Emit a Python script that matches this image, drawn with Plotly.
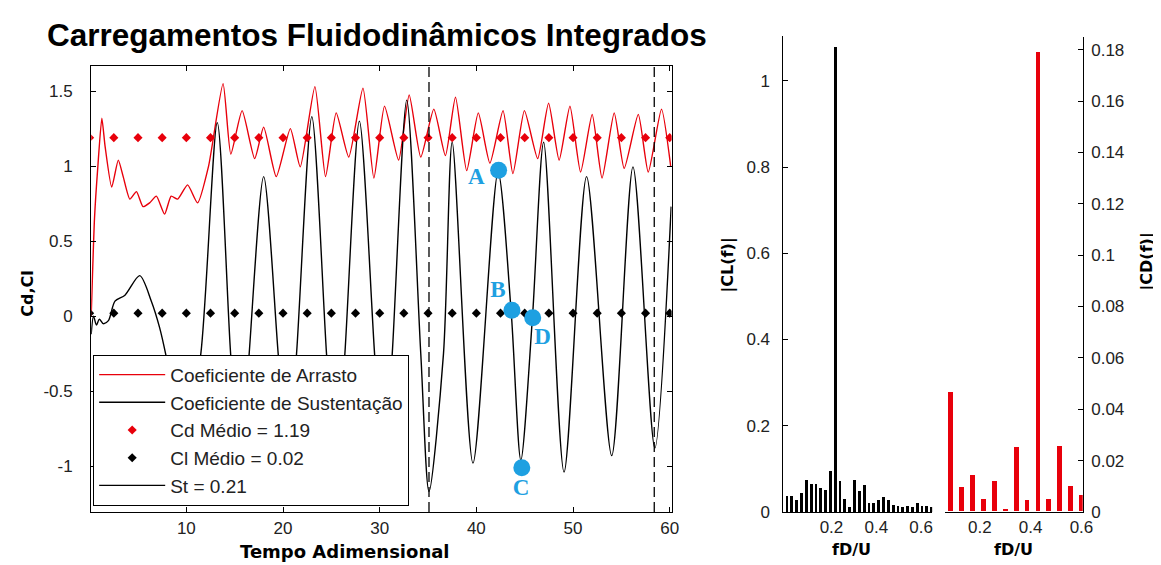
import plotly.graph_objects as go

W, H = 1161, 565

# ---------------- data ----------------
# Drag coefficient time series (extrema / key points)
cd_t = [0.16, 0.5, 0.85, 1.26, 1.6, 2.28, 2.96, 3.47, 4.16, 4.84, 5.52, 6.2, 6.9, 7.75,
        8.43, 9.1, 10.13, 11.16, 12.3, 13.8, 14.6, 15.77, 17.07, 18.0, 19.3, 20.76,
        21.78, 23.3, 24.4, 25.5, 26.8, 28.27, 29.4, 30.5, 31.96, 33.05, 34.25, 35.6,
        36.8, 37.84, 39.0, 40.2, 41.4, 42.76, 43.78, 44.97, 46.34, 47.47, 48.56,
        49.68, 50.78, 51.98, 53.0, 54.26, 55.29, 56.75, 57.78, 59.15, 60.1]
cd_v = [0.0, 0.65, 1.0, 1.32, 1.13, 0.86, 1.04, 0.93, 0.78, 0.83, 0.73, 0.755, 0.80, 0.68,
        0.80, 0.78, 0.875, 0.755, 1.0, 1.55, 1.08, 1.37, 1.05, 1.26, 0.93, 1.25,
        0.995, 1.53, 0.93, 1.355, 1.06, 1.52, 0.92, 1.40, 1.04, 1.475, 1.06, 1.38,
        1.07, 1.46, 0.97, 1.355, 1.02, 1.37, 0.95, 1.37, 1.05, 1.42, 1.04,
        1.40, 0.96, 1.345, 0.92, 1.355, 0.985, 1.345, 0.96, 1.38, 1.0]

# Lift coefficient time series (extrema / key points)
cl_t = [0.16, 0.4, 0.7, 1.0, 1.4, 1.94, 2.62, 3.65, 5.18, 6.38, 7.23, 7.92, 9.8, 11.5,
        13.2, 14.58, 15.6, 16.5, 18.0, 19.5, 20.45, 21.4, 22.98, 24.5, 25.45, 26.4,
        27.9, 29.47, 30.4, 31.3, 32.8, 34.25, 35.1, 36.6, 37.5, 39.65, 42.24, 43.6,
        44.6, 45.8, 46.96, 49.07, 51.4, 54.0, 56.2, 58.46, 60.15]
cl_v = [-0.12, 0.0, -0.06, -0.02, -0.05, -0.03, 0.10, 0.14, 0.27, 0.10, -0.075, -0.27,
        -0.9, -0.25, 1.29, -0.25, -1.1, -0.25, 0.93, -0.25, -1.0, -0.25, 1.33, -0.25,
        -1.1, -0.25, 1.30, -0.25, -1.1, -0.25, 1.44, -0.25, -1.17, -0.25, 1.16, -0.98,
        0.96, 0.03, -0.96, -0.01, 1.16, -1.04, 0.93, -0.93, 0.995, -0.88, 0.73]

# mean-value markers
mean_t = [0, 2.5, 5, 7.5, 10, 12.5, 15, 17.5, 20, 22.5, 25, 27.5, 30, 32.5, 35, 37.5,
          40, 42.5, 45, 47.5, 50, 52.5, 55, 57.5, 60]
cd_mean = 1.19
cl_mean = 0.02

# analysis window (dashed lines)
window_t = [35.1, 58.4]

# highlighted instants
pt_labels = ["A", "B", "C", "D"]
pt_t = [42.3, 43.68, 44.7, 45.83]
pt_v = [0.973, 0.04, -1.01, -0.01]
lab_t = [40.0, 42.24, 44.63, 46.85]
lab_v = [0.92, 0.165, -1.157, -0.15]

# spectra
cl_freq = [0.0, 0.0215, 0.043, 0.0645, 0.086, 0.1075, 0.129, 0.1505, 0.172, 0.1935,
           0.215, 0.2365, 0.258, 0.2795, 0.301, 0.3225, 0.344, 0.3655, 0.387, 0.4085,
           0.43, 0.4515, 0.473, 0.4945, 0.516, 0.5375, 0.559, 0.5805, 0.602, 0.6235, 0.645]
cl_amp = [0.038, 0.038, 0.029, 0.046, 0.076, 0.067, 0.067, 0.056, 0.052, 0.097, 1.08,
          0.073, 0.031, 0.012, 0.076, 0.050, 0.063, 0.023, 0.021, 0.029, 0.036, 0.029,
          0.018, 0.016, 0.012, 0.014, 0.012, 0.021, 0.016, 0.016, 0.012]
cd_freq = [0.0858, 0.1287, 0.1716, 0.2145, 0.2574, 0.3003, 0.3432, 0.3861, 0.429,
           0.4719, 0.5148, 0.5577, 0.6006]
cd_amp = [0.0464, 0.0094, 0.0141, 0.0047, 0.0117, 0.0008, 0.0251, 0.0043, 0.179,
          0.0047, 0.0256, 0.0101, 0.0065]

# ---------------- helpers (pixel -> paper) ----------------
def fx(px):
    return px / W


def fy(py):
    return 1 - py / H


RED = "#e8000b"
BLUE = "#1ea0e1"
TICKFONT = dict(family="Liberation Sans", size=17, color="#222")
LABFONT = dict(family="DejaVu Sans", size=16, color="black")

fig = go.Figure()

fig.add_trace(go.Scatter(x=cd_t, y=cd_v, mode="lines", name="Coeficiente de Arrasto",
                         line=dict(color=RED, width=1.4, shape="spline", smoothing=0.55)))
fig.add_trace(go.Scatter(x=cl_t, y=cl_v, mode="lines", name="Coeficiente de Sustentação",
                         line=dict(color="black", width=1.4, shape="spline", smoothing=0.8)))
fig.add_trace(go.Scatter(x=mean_t, y=[cd_mean] * len(mean_t), mode="markers",
                         name="Cd Médio = %.2f" % cd_mean,
                         marker=dict(symbol="diamond", size=7, color=RED)))
fig.add_trace(go.Scatter(x=mean_t, y=[cl_mean] * len(mean_t), mode="markers",
                         name="Cl Médio = %.2f" % cl_mean,
                         marker=dict(symbol="diamond", size=7, color="black")))
fig.add_trace(go.Scatter(x=[None], y=[None], mode="lines", name="St = 0.21",
                         line=dict(color="black", width=1.4)))
fig.add_trace(go.Scatter(x=pt_t, y=pt_v, mode="markers", showlegend=False,
                         marker=dict(size=17, color=BLUE)))
fig.add_trace(go.Scatter(x=lab_t, y=lab_v, mode="text", text=pt_labels, showlegend=False,
                         textfont=dict(family="Liberation Serif", size=23, color=BLUE,
                                       weight="bold")))

fig.add_trace(go.Bar(x=cl_freq, y=cl_amp, width=0.0125, marker=dict(color="black", line=dict(width=0)),
                     xaxis="x2", yaxis="y2", showlegend=False))
fig.add_trace(go.Bar(x=cd_freq, y=cd_amp, width=0.019, marker=dict(color=RED, line=dict(width=0)),
                     xaxis="x3", yaxis="y3", showlegend=False))

shapes = []
for t in window_t:
    shapes.append(dict(type="line", xref="x", yref="y domain", x0=t, x1=t, y0=0, y1=1,
                       line=dict(color="black", width=1.3, dash="10px,5px")))

ax_common = dict(showgrid=False, zeroline=False, showline=True, linecolor="black",
                 linewidth=1.2, ticks="inside", ticklen=5, tickcolor="black",
                 tickfont=TICKFONT)

fig.update_layout(
    width=W, height=H, autosize=False,
    margin=dict(l=0, r=0, t=0, b=0),
    paper_bgcolor="white", plot_bgcolor="white",
    showlegend=True,
    legend=dict(x=fx(86), y=fy(353), xanchor="left", yanchor="top",
                bgcolor="white", bordercolor="black", borderwidth=1,
                font=dict(family="Liberation Sans", size=19, color="#222"),
                itemwidth=66),
    xaxis=dict(domain=[fx(84), fx(670)], range=[0.16, 60.2],
               tickvals=[10, 20, 30, 40, 50, 60], mirror="ticks", anchor="y",
               ticklabelstandoff=1, **ax_common),
    yaxis=dict(domain=[fy(513), fy(59)], range=[-1.305, 1.668],
               tickvals=[-1, -0.5, 0, 0.5, 1, 1.5],
               ticktext=["-1", "-0.5", "0", "0.5", "1", "1.5"], mirror="ticks", anchor="x",
               ticklabelstandoff=14, **ax_common),
    xaxis2=dict(domain=[fx(782), fx(933)], range=[-0.018, 0.649], anchor="y2",
                tickvals=[0.2, 0.4, 0.6], ticktext=["0.2", "0.4", "0.6"],
                **{**ax_common, "ticklen": 0}),
    yaxis2=dict(domain=[fy(513), fy(28)], range=[0, 1.105], anchor="x2",
                tickvals=[0, 0.2, 0.4, 0.6, 0.8, 1],
                ticktext=["0", "0.2", "0.4", "0.6", "0.8", "1"],
                ticklabelstandoff=8, **ax_common),
    xaxis3=dict(domain=[fx(946), fx(1085)], range=[0.063, 0.605], anchor="y3",
                tickvals=[0.2, 0.4, 0.6], ticktext=["0.2", "0.4", "0.6"],
                **{**ax_common, "ticklen": 0}),
    yaxis3=dict(domain=[fy(513), fy(30)], range=[0, 0.1848], anchor="x3", side="right",
                tickvals=[0, 0.02, 0.04, 0.06, 0.08, 0.1, 0.12, 0.14, 0.16, 0.18],
                ticktext=["0", "0.02", "0.04", "0.06", "0.08", "0.1", "0.12", "0.14",
                          "0.16", "0.18"],
                ticklabelstandoff=4, **ax_common),
    shapes=shapes,
    bargap=0,
)

ann = [
    dict(text="<b>Carregamentos Fluidodinâmicos Integrados</b>", x=fx(373), y=fy(27),
         font=dict(family="Liberation Sans", size=31.5, color="black")),
    dict(text="<b>Cd,Cl</b>", x=fx(20), y=fy(290), textangle=-90, font=LABFONT),
    dict(text="<b>Tempo Adimensional</b>", x=fx(340), y=fy(553),
         font=dict(family="DejaVu Sans", size=18, color="black")),
    dict(text="<b>|CL(f)|</b>", x=fx(727), y=fy(262), textangle=-90, font=LABFONT),
    dict(text="<b>fD/U</b>", x=fx(852), y=fy(551), font=LABFONT),
    dict(text="<b>fD/U</b>", x=fx(1015), y=fy(551), font=LABFONT),
    dict(text="<b>|CD(f)|</b>", x=fx(1150), y=fy(258), textangle=-90, font=LABFONT),
]
for a in ann:
    a.update(xref="paper", yref="paper", showarrow=False, xanchor="center", yanchor="middle")
fig.update_layout(annotations=ann)

fig.write_html("out.html")
